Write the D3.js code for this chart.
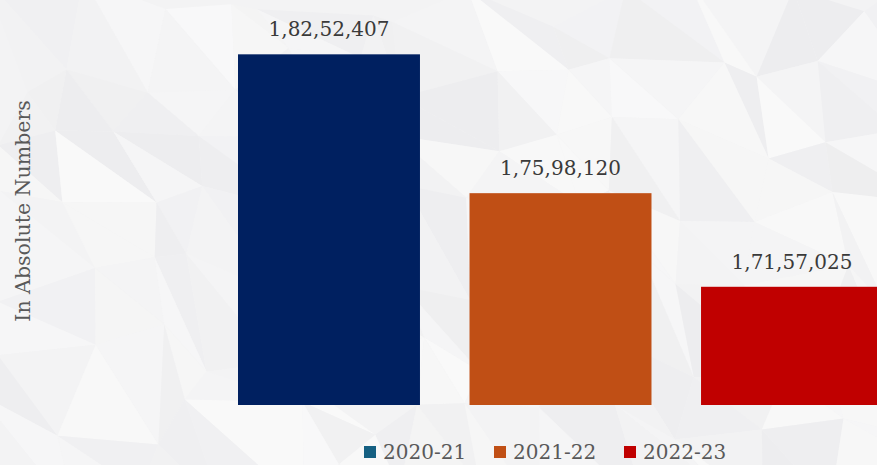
<!DOCTYPE html>
<html>
<head>
<meta charset="utf-8">
<script src="https://cdn.jsdelivr.net/npm/d3@7"></script>
<style>
  html, body { margin: 0; padding: 0; overflow: hidden; background: #f3f3f4; }
  svg { display: block; font-family: "DejaVu Serif", "Liberation Serif", serif; }
</style>
</head>
<body>
<div id="chart"></div>
<script>
// Data
const years = ["2020-21", "2021-22", "2022-23"];
const counts = [18252407, 17598120, 17157025];
const barColors = ["#002060", "#C04F15", "#C00000"];
const legendColors = ["#156082", "#C04F15", "#C00000"];

const width = 877;
const height = 465;

const svg = d3.select("#chart")
  .append("svg")
    .attr("width", width)
    .attr("height", height);

// Background: soft low-poly texture
const bg = svg.append("g");
bg.append("rect").attr("width", width).attr("height", height).attr("fill", "#f3f3f4");
const cell = 70;
const cols = Math.ceil(width / cell) + 1;
const rows = Math.ceil(height / cell) + 1;
const jitter = (i, j, k) => {
  const s = Math.sin(i * 12.9898 + j * 78.233 + k * 37.719) * 43758.5453;
  return s - Math.floor(s);
};
const pts = [];
for (let j = 0; j <= rows; j++) {
  pts.push([]);
  for (let i = 0; i <= cols; i++) {
    pts[j].push([i * cell + (jitter(i, j, 1) - 0.5) * cell * 0.8,
                 j * cell + (jitter(i, j, 2) - 0.5) * cell * 0.8]);
  }
}
const shade = d3.scaleLinear().domain([0, 1]).range(["#ededef", "#f9f9f9"]);
for (let j = 0; j < rows; j++) {
  for (let i = 0; i < cols; i++) {
    const a = pts[j][i], b = pts[j][i + 1], c = pts[j + 1][i], d = pts[j + 1][i + 1];
    [[a, b, d], [a, d, c]].forEach((tri, t) => {
      bg.append("path")
        .attr("d", "M" + tri.join("L") + "Z")
        .attr("fill", shade(jitter(i, j, 3 + t)));
    });
  }
}

// Indian digit grouping
const formatIN = (n) => {
  const s = String(n);
  const last3 = s.slice(-3);
  let rest = s.slice(0, -3);
  rest = rest.replace(/\B(?=(\d{2})+(?!\d))/g, ",");
  return rest ? rest + "," + last3 : last3;
};

// Scales
const x = d3.scaleBand()
  .domain(years)
  .range([238, 883])
  .paddingInner(0.214)
  .paddingOuter(0);

const y = d3.scaleLinear()
  .domain([16600000, 18400000])
  .range([405, 23]);

// Bars
svg.append("g")
  .selectAll("rect")
  .data(years)
  .enter().append("rect")
    .attr("x", d => x(d))
    .attr("y", (d, i) => y(counts[i]))
    .attr("width", x.bandwidth())
    .attr("height", (d, i) => y.range()[0] - y(counts[i]))
    .attr("fill", (d, i) => barColors[i]);

// Value labels
svg.append("g")
  .selectAll("text")
  .data(years)
  .enter().append("text")
    .attr("x", d => x(d) + x.bandwidth() / 2)
    .attr("y", (d, i) => y(counts[i]) - 18)
    .attr("text-anchor", "middle")
    .attr("font-size", 20)
    .attr("fill", "#3a3a3a")
    .text((d, i) => formatIN(counts[i]));

// Axis title
svg.append("text")
  .attr("transform", "translate(30, 211) rotate(-90)")
  .attr("text-anchor", "middle")
  .attr("font-size", 20.5)
  .attr("fill", "#595959")
  .text("In Absolute Numbers");

// Legend
const legend = svg.append("g")
  .selectAll("g")
  .data(years)
  .enter().append("g")
    .attr("transform", (d, i) => "translate(" + (364 + i * 130) + ", 446)");

legend.append("rect")
  .attr("width", 12)
  .attr("height", 12)
  .attr("fill", (d, i) => legendColors[i]);

legend.append("text")
  .attr("x", 19)
  .attr("y", 13)
  .attr("font-size", 20)
  .attr("fill", "#595959")
  .text(d => d);
</script>
</body>
</html>
